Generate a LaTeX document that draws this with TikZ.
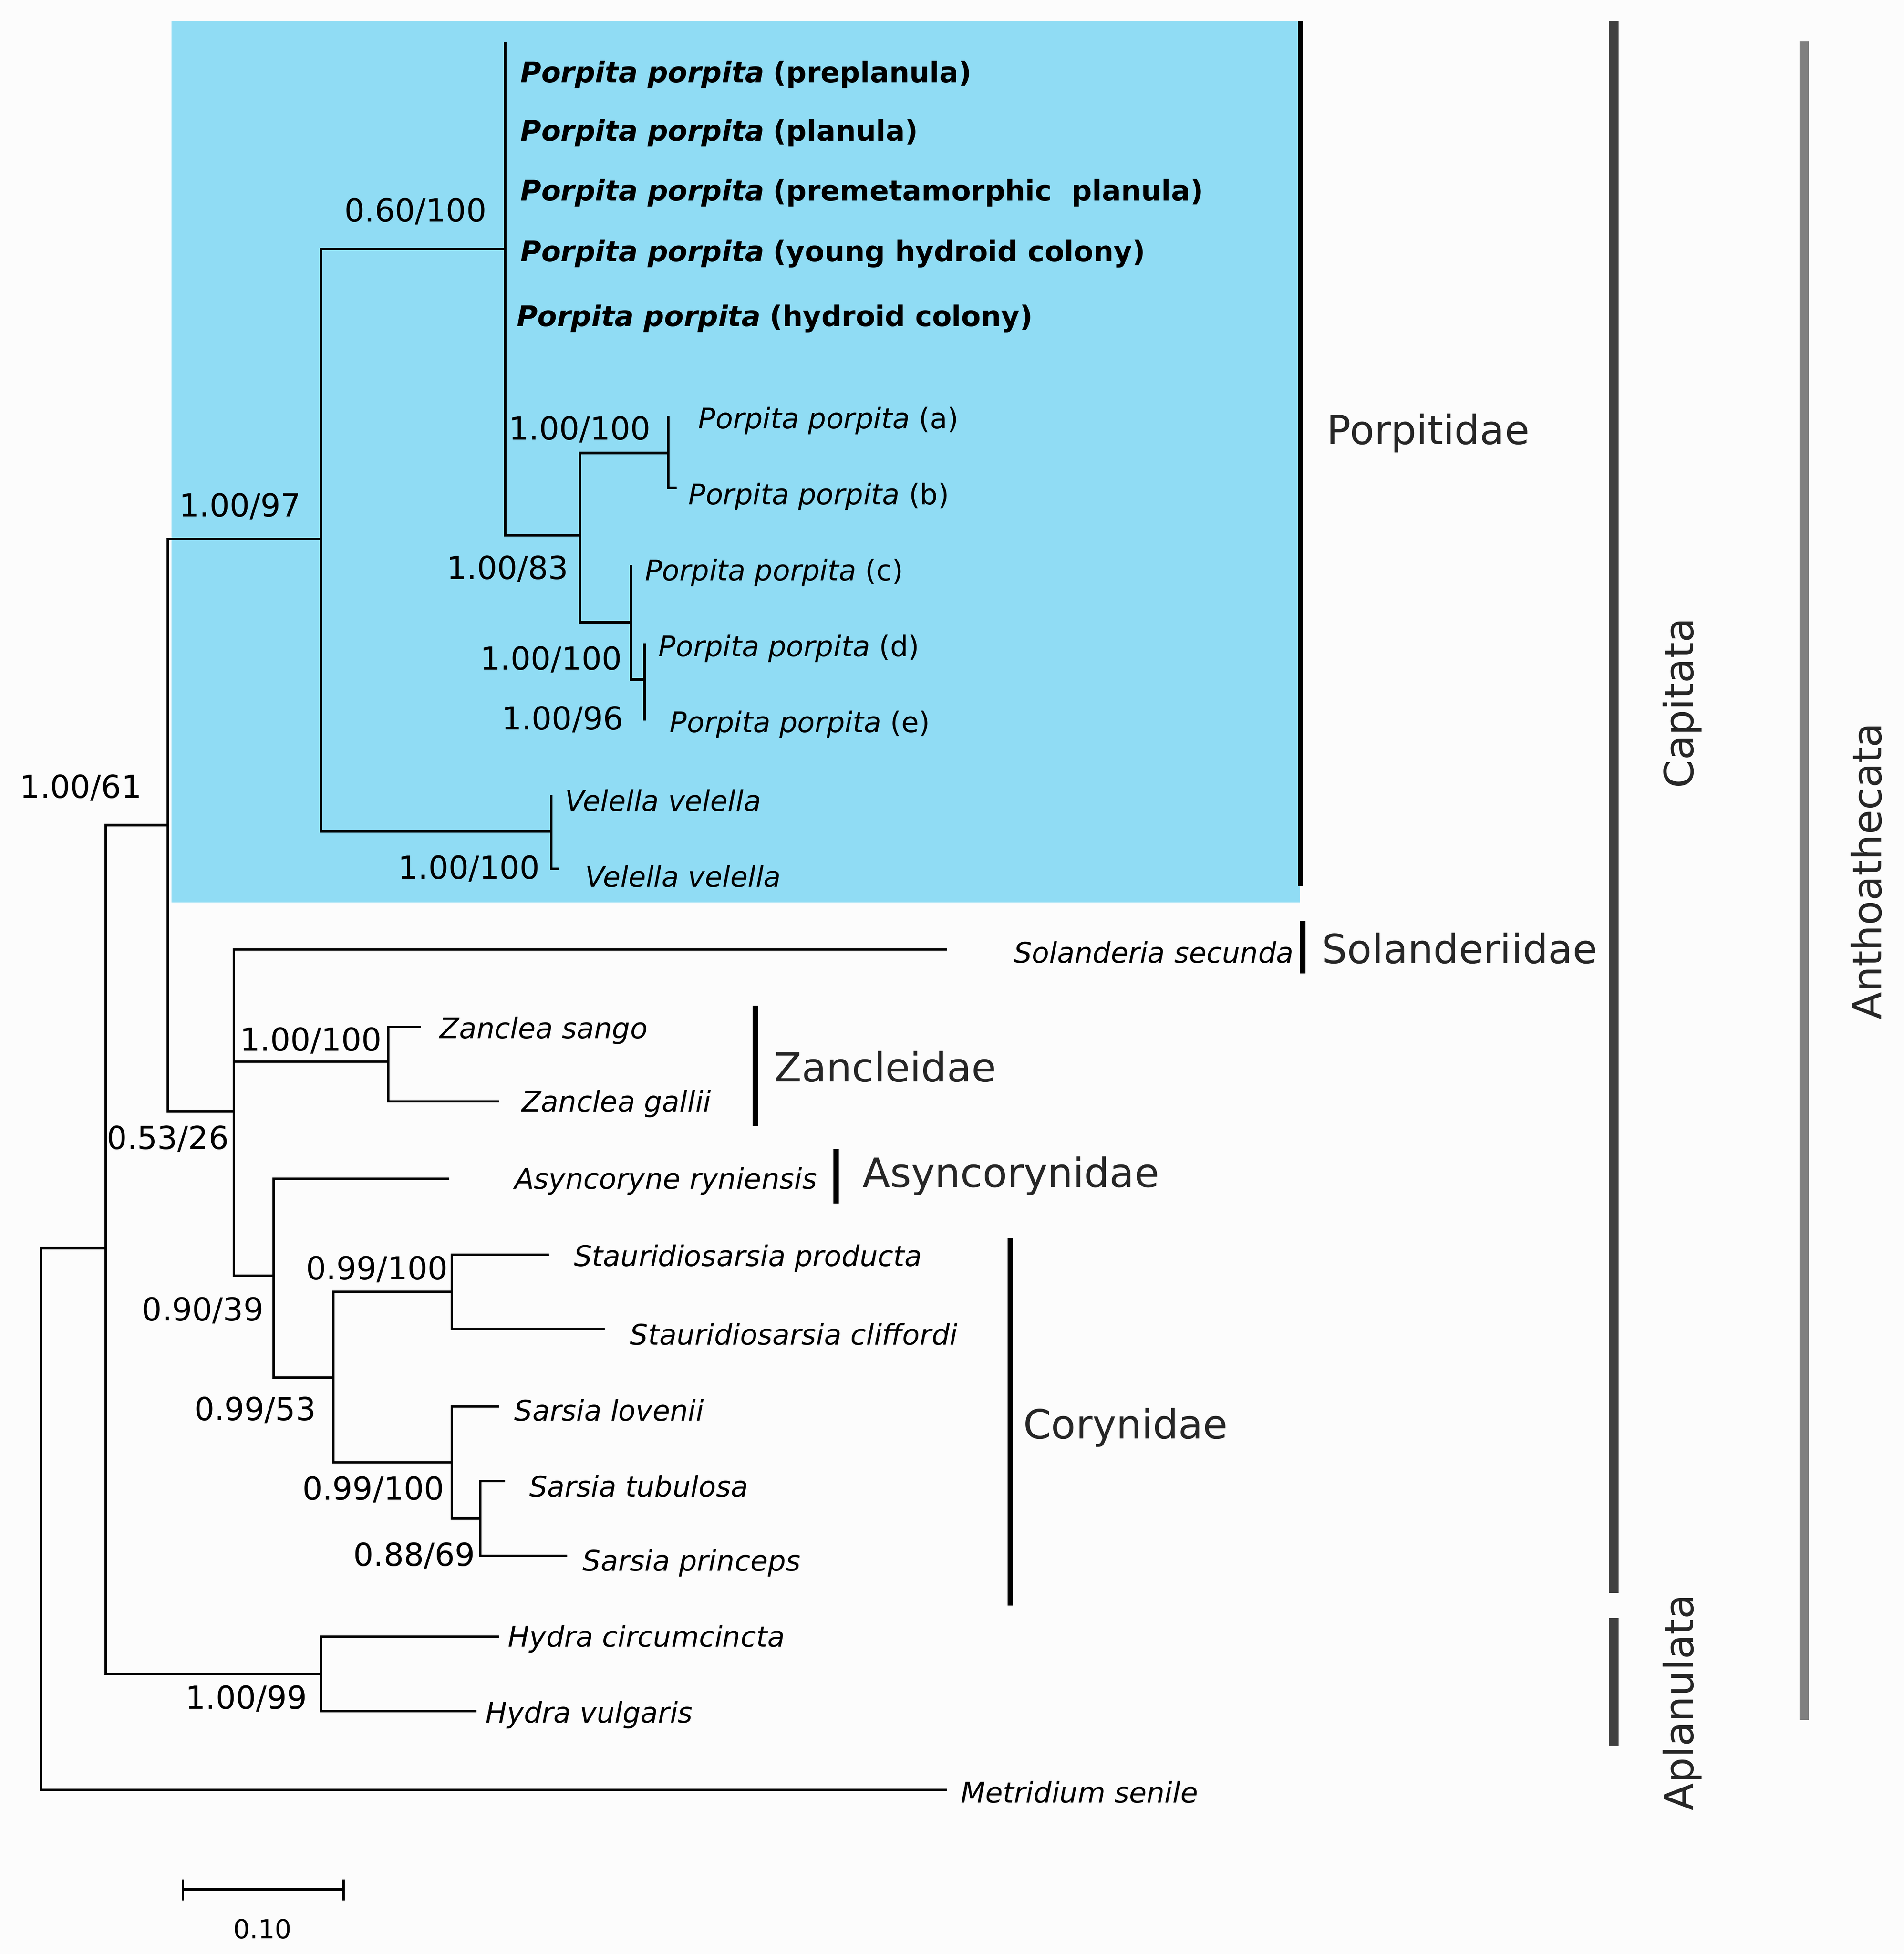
\documentclass[tikz,border=0pt]{standalone}
\usepackage{fontspec}
\setmainfont{DejaVu Sans}
\definecolor{bluebg}{HTML}{90DCF4}
\begin{document}
\begin{tikzpicture}[x=0.02cm,y=-0.02cm,
 br/.style={line width=1.1pt,line cap=rect},
 tip/.style={anchor=west,inner sep=0pt,font=\fontsize{13}{15}\selectfont\itshape},
 btip/.style={anchor=west,inner sep=0pt,font=\fontsize{13}{15}\selectfont},
 sup/.style={inner sep=0pt,font=\fontsize{14.5}{17}\selectfont},
 grp/.style={anchor=west,inner sep=0pt,font=\fontsize{18.4}{21}\selectfont,text=black!85},
 bar/.style={line width=2.4pt},
 gbar/.style={line width=4.2pt,draw=black!75},
 abar/.style={line width=4.2pt,draw=black!50}]
\fill[black!1] (0,0) rectangle (1530,1570);
\useasboundingbox (0,0) rectangle (1530,1570);
\fill[bluebg] (138,17) rectangle (1045,725);
% tree
\draw[br] (33,1003)--(33,1438) (33,1003)--(85,1003) (33,1438)--(760,1438);
\draw[br] (85,663)--(85,1345) (85,663)--(135,663) (85,1345)--(258,1345);
\draw[br] (258,1315)--(258,1375) (258,1315)--(400,1315) (258,1375)--(382,1375);
\draw[br] (135,433)--(135,893) (135,433)--(258,433) (135,893)--(188,893);
\draw[br] (258,200)--(258,668) (258,200)--(406,200) (258,668)--(443,668);
\draw[br] (443,640)--(443,698) (443,698)--(448,698);
\draw[br] (406,35)--(406,430) (406,430)--(466,430);
\draw[br] (466,364)--(466,500) (466,364)--(537,364) (466,500)--(507,500);
\draw[br] (537,335)--(537,392) (537,392)--(543,392);
\draw[br] (507,455)--(507,546) (507,546)--(518,546) (518,518)--(518,578);
\draw[br] (188,763)--(188,1025) (188,763)--(760,763) (188,853)--(312,853) (188,1025)--(220,1025);
\draw[br] (312,825)--(312,885) (312,825)--(337,825) (312,885)--(400,885);
\draw[br] (220,947)--(220,1107) (220,947)--(360,947) (220,1107)--(268,1107);
\draw[br] (268,1038)--(268,1175) (268,1038)--(363,1038) (268,1175)--(363,1175);
\draw[br] (363,1008)--(363,1068) (363,1008)--(440,1008) (363,1068)--(485,1068);
\draw[br] (363,1130)--(363,1220) (363,1130)--(400,1130) (363,1220)--(386,1220);
\draw[br] (386,1190)--(386,1250) (386,1190)--(405,1190) (386,1250)--(455,1250);
% support values
\node[sup] (s1) at (65,633) {1.00/61};
\node[sup] (s2) at (198,1365) {1.00/99};
\node[sup] (s3) at (193,407) {1.00/97};
\node[sup] (s4) at (135,915) {0.53/26};
\node[sup] (s5) at (334,170) {0.60/100};
\node[sup] (s6) at (377,698) {1.00/100};
\node[sup] (s7) at (408,457) {1.00/83};
\node[sup] (s8) at (466,345) {1.00/100};
\node[sup] (s9) at (443,530) {1.00/100};
\node[sup] (s10) at (452,578) {1.00/96};
\node[sup] (s11) at (250,836) {1.00/100};
\node[sup] (s12) at (163,1053) {0.90/39};
\node[sup] (s13) at (205,1133) {0.99/53};
\node[sup] (s14) at (303,1020) {0.99/100};
\node[sup] (s15) at (300,1197) {0.99/100};
\node[sup] (s16) at (333,1250) {0.88/69};
% tips
\node[btip] (t1) at (418,60) {\textbf{\textit{Porpita porpita}} \textbf{(preplanula)}};
\node[btip] (t2) at (418,107) {\textbf{\textit{Porpita porpita}} \textbf{(planula)}};
\node[btip] (t3) at (418,155) {\textbf{\textit{Porpita porpita}} \textbf{(premetamorphic\ \ planula)}};
\node[btip] (t4) at (418,204) {\textbf{\textit{Porpita porpita}} \textbf{(young hydroid colony)}};
\node[btip] (t5) at (415,256) {\textbf{\textit{Porpita porpita}} \textbf{(hydroid colony)}};
\node[btip] (ta) at (561,338) {\textit{Porpita porpita} (a)};
\node[btip] (tb) at (553,399) {\textit{Porpita porpita} (b)};
\node[btip] (tc) at (518,460) {\textit{Porpita porpita} (c)};
\node[btip] (td) at (529,521) {\textit{Porpita porpita} (d)};
\node[btip] (te) at (538,582) {\textit{Porpita porpita} (e)};
\node[tip] (v1) at (454,643) {Velella velella};
\node[tip] (v2) at (470,704) {Velella velella};
\node[tip,anchor=east] (so) at (1040,765) {Solanderia secunda};
\node[tip] (z1) at (353,828) {Zanclea sango};
\node[tip] (z2) at (419,887) {Zanclea gallii};
\node[tip,anchor=east] (as) at (657,949) {Asyncoryne ryniensis};
\node[tip] (c1) at (461,1011) {Stauridiosarsia producta};
\node[tip] (c2) at (506,1072) {Stauridiosarsia cliffordi};
\node[tip] (c3) at (413,1133) {Sarsia lovenii};
\node[tip] (c4) at (425,1194) {Sarsia tubulosa};
\node[tip] (c5) at (468,1256) {Sarsia princeps};
\node[tip] (h1) at (408,1317) {Hydra circumcincta};
\node[tip] (h2) at (390,1378) {Hydra vulgaris};
\node[tip] (m) at (772,1440) {Metridium senile};
% group bars
\draw[bar] (1045,17)--(1045,712);
\node[grp] (g1) at (1066,348) {Porpitidae};
\draw[bar] (1047,740)--(1047,782);
\node[grp] (g2) at (1062,762) {Solanderiidae};
\draw[bar] (607,808)--(607,905);
\node[grp] (g3) at (622,857) {Zancleidae};
\draw[bar] (672,923)--(672,967);
\node[grp] (g4) at (693,945) {Asyncorynidae};
\draw[bar] (812,995)--(812,1290);
\node[grp] (g5) at (822,1147) {Corynidae};
\draw[gbar] (1297,17)--(1297,1280);
\node[grp,anchor=center,rotate=90] (g6) at (1352,565) {Capitata};
\draw[gbar] (1297,1300)--(1297,1403);
\node[grp,anchor=center,rotate=90] (g7) at (1352,1368) {Aplanulata};
\draw[abar] (1450,33)--(1450,1382);
\node[grp,anchor=center,rotate=90] (g8) at (1500,700) {Anthoathecata};
% scale
\draw[line width=1.1pt] (147,1518)--(276,1518) (147,1510)--(147,1527) (276,1510)--(276,1527);
\node[sup,font=\fontsize{12}{14}\selectfont] (sc) at (211,1550) {0.10};
\end{tikzpicture}
\end{document}
